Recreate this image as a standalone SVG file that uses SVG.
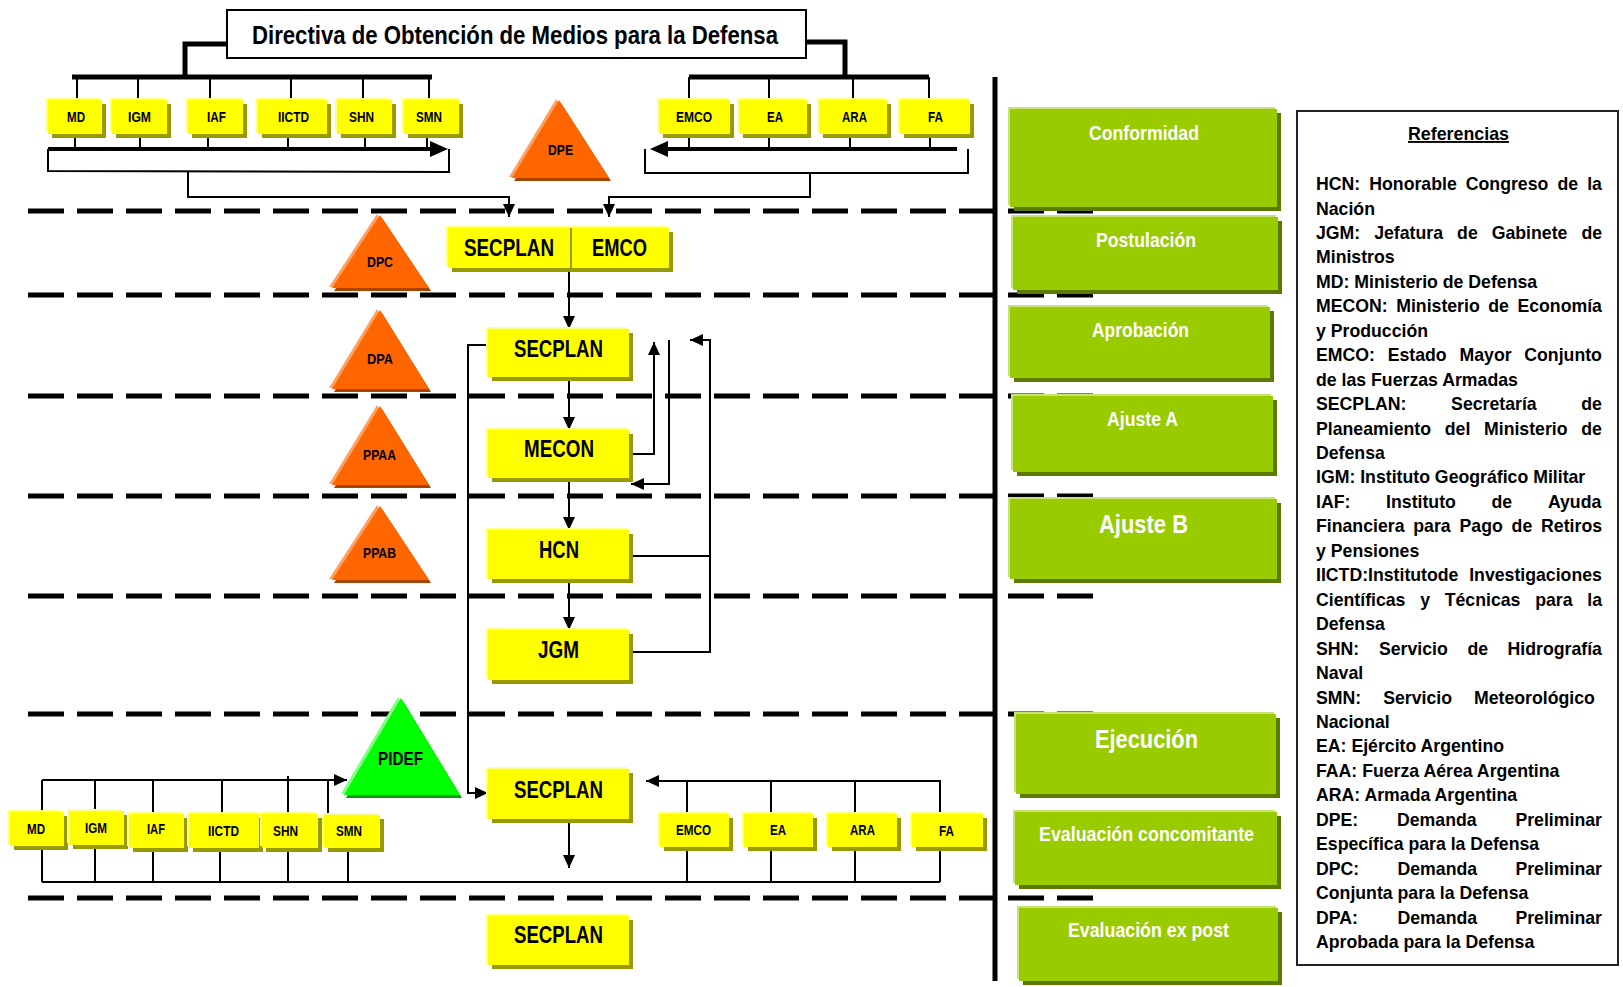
<svg xmlns="http://www.w3.org/2000/svg" width="1623" height="987" viewBox="0 0 1623 987">
<defs>
<style>
.dash{stroke:#000;stroke-width:5;stroke-dasharray:36 13;fill:none}
.thick{stroke:#000;stroke-width:5;fill:none}
.ln{stroke:#000;stroke-width:2;fill:none}
.ln4{stroke:#000;stroke-width:4;fill:none}
.ysh{fill:#999900}.yl{fill:#FFFF8C}.y{fill:#FFFF00}
.gsh{fill:#5C7A00}.gl{fill:#C8E27A}.g{fill:#99CC00}
.osh{fill:#A84300}.ol{fill:#FFA060}.o{fill:#FF6600}
.psh{fill:#00A000}.pl{fill:#80FF80}.p{fill:#00FF00}
text{font-family:"Liberation Sans",Arial,sans-serif;font-weight:bold;fill:#000}
.w{fill:#FFFFFF}
.s14{font-size:14px}.s18{font-size:18px}.s23{font-size:23px}.s20{font-size:20.5px}.s25{font-size:25.5px}.leg{font-size:17.7px}
</style>
<marker id="ah" markerUnits="userSpaceOnUse" markerWidth="13" markerHeight="12" refX="13" refY="6" orient="auto"><path d="M0,0 L13,6 L0,12 z" fill="#000"/></marker>
<marker id="ahb" markerUnits="userSpaceOnUse" markerWidth="18" markerHeight="16" refX="6" refY="8" orient="auto"><path d="M0,0 L18,8 L0,16 z" fill="#000"/></marker>
</defs>
<rect x="0" y="0" width="1623" height="987" fill="#FFFFFF"/>

<g id="phase-lines">
<line class="dash" x1="28" y1="211" x2="1093" y2="211"/>
<line class="dash" x1="28" y1="295" x2="1093" y2="295"/>
<line class="dash" x1="28" y1="396" x2="1093" y2="396"/>
<line class="dash" x1="28" y1="496" x2="1093" y2="496"/>
<line class="dash" x1="28" y1="596" x2="1093" y2="596"/>
<line class="dash" x1="28" y1="714" x2="1093" y2="714"/>
<line class="dash" x1="28" y1="898" x2="1093" y2="898"/>
<line class="thick" x1="995" y1="77" x2="995" y2="981"/>
</g>

<g id="connectors">
<polyline class="thick" points="227,44 185,44 185,77"/>
<line class="thick" x1="72" y1="77" x2="432" y2="77"/>
<line class="ln" x1="77" y1="77" x2="77" y2="100"/>
<line class="ln" x1="138" y1="77" x2="138" y2="100"/>
<line class="ln" x1="210" y1="77" x2="210" y2="100"/>
<line class="ln" x1="291" y1="77" x2="291" y2="100"/>
<line class="ln" x1="363" y1="77" x2="363" y2="100"/>
<line class="ln" x1="429" y1="77" x2="429" y2="100"/>
<polyline class="thick" points="806,42 845,42 845,77"/>
<line class="thick" x1="689" y1="77" x2="929" y2="77"/>
<line class="ln" x1="689" y1="77" x2="689" y2="100"/>
<line class="ln" x1="769" y1="77" x2="769" y2="100"/>
<line class="ln" x1="853" y1="77" x2="853" y2="100"/>
<line class="ln" x1="929" y1="77" x2="929" y2="100"/>
<line class="ln" x1="75" y1="134" x2="75" y2="149"/>
<line class="ln" x1="140" y1="134" x2="140" y2="149"/>
<line class="ln" x1="208" y1="134" x2="208" y2="149"/>
<line class="ln" x1="288" y1="134" x2="288" y2="149"/>
<line class="ln" x1="365" y1="134" x2="365" y2="149"/>
<line class="ln" x1="427" y1="134" x2="427" y2="149"/>
<line class="ln4" x1="48" y1="149" x2="436" y2="149" marker-end="url(#ahb)"/>
<polyline class="ln" points="48,149 48,171 449,172 449,149"/>
<polyline class="ln" points="188,172 188,197 509,197 509,217" marker-end="url(#ah)"/>
<line class="ln" x1="689" y1="134" x2="689" y2="149"/>
<line class="ln" x1="769" y1="134" x2="769" y2="149"/>
<line class="ln" x1="850" y1="134" x2="850" y2="149"/>
<line class="ln" x1="930" y1="134" x2="930" y2="149"/>
<line class="ln4" x1="957" y1="149" x2="662" y2="149" marker-end="url(#ahb)"/>
<polyline class="ln" points="645,149 645,173 968,173 968,149"/>
<polyline class="ln" points="810,173 810,197 609,197 609,217" marker-end="url(#ah)"/>

<line class="ln" x1="569" y1="268" x2="569" y2="329" marker-end="url(#ah)"/>
<line class="ln" x1="569" y1="377" x2="569" y2="430" marker-end="url(#ah)"/>
<line class="ln" x1="569" y1="478" x2="569" y2="530" marker-end="url(#ah)"/>
<line class="ln" x1="569" y1="579" x2="569" y2="630" marker-end="url(#ah)"/>
<polyline class="ln" points="492,345 468,345 468,793 488,793" marker-end="url(#ah)"/>
<polyline class="ln" points="629,454 654,454 654,342" marker-end="url(#ah)"/>
<polyline class="ln" points="669,340 669,484 631,484" marker-end="url(#ah)"/>
<line class="ln" x1="629" y1="556" x2="710" y2="556"/>
<polyline class="ln" points="629,652 710,652 710,340 690,340" marker-end="url(#ah)"/>
<line class="ln" x1="569" y1="819" x2="569" y2="868" marker-end="url(#ah)"/>

<line class="ln" x1="42" y1="780" x2="347" y2="780" marker-end="url(#ah)"/>
<line class="ln" x1="42" y1="780" x2="42" y2="882"/>
<line class="ln" x1="95" y1="780" x2="95" y2="882"/>
<line class="ln" x1="153" y1="780" x2="153" y2="882"/>
<line class="ln" x1="222" y1="780" x2="222" y2="814"/>
<line class="ln" x1="220" y1="848" x2="220" y2="882"/>
<line class="ln" x1="288" y1="776" x2="288" y2="882"/>
<line class="ln" x1="328" y1="780" x2="328" y2="815"/>
<line class="ln" x1="348" y1="848" x2="348" y2="882"/>
<line class="ln" x1="42" y1="882" x2="940" y2="882"/>
<polyline class="ln" points="940,882 940,781 646,781" marker-end="url(#ah)"/>
<line class="ln" x1="687" y1="781" x2="687" y2="882"/>
<line class="ln" x1="771" y1="781" x2="771" y2="882"/>
<line class="ln" x1="855" y1="781" x2="855" y2="882"/>
</g>

<g id="title">
<rect x="227" y="10" width="579" height="48" fill="#FFFFFF" stroke="#000" stroke-width="2"/>
<text x="252" y="44" style="font-size:25px" textLength="526" lengthAdjust="spacingAndGlyphs">Directiva de Obtención de Medios para la Defensa</text>
</g>

<g id="top-MD"><rect class="ysh" x="52" y="104" width="54" height="34"/><rect class="yl" x="46" y="98" width="54" height="34"/><rect class="y" x="48" y="100" width="54" height="34"/><text class="s14" x="67" y="122" textLength="18" lengthAdjust="spacingAndGlyphs">MD</text></g>
<g id="top-IGM"><rect class="ysh" x="116" y="104" width="55" height="34"/><rect class="yl" x="110" y="98" width="55" height="34"/><rect class="y" x="112" y="100" width="55" height="34"/><text class="s14" x="128" y="122" textLength="23" lengthAdjust="spacingAndGlyphs">IGM</text></g>
<g id="top-IAF"><rect class="ysh" x="192" y="104" width="55" height="34"/><rect class="yl" x="186" y="98" width="55" height="34"/><rect class="y" x="188" y="100" width="55" height="34"/><text class="s14" x="207" y="122" textLength="19" lengthAdjust="spacingAndGlyphs">IAF</text></g>
<g id="top-IICTD"><rect class="ysh" x="262" y="104" width="69" height="34"/><rect class="yl" x="256" y="98" width="69" height="34"/><rect class="y" x="258" y="100" width="69" height="34"/><text class="s14" x="278" y="122" textLength="31" lengthAdjust="spacingAndGlyphs">IICTD</text></g>
<g id="top-SHN"><rect class="ysh" x="341" y="104" width="55" height="34"/><rect class="yl" x="335" y="98" width="55" height="34"/><rect class="y" x="337" y="100" width="55" height="34"/><text class="s14" x="349" y="122" textLength="25" lengthAdjust="spacingAndGlyphs">SHN</text></g>
<g id="top-SMN"><rect class="ysh" x="408" y="104" width="55" height="34"/><rect class="yl" x="402" y="98" width="55" height="34"/><rect class="y" x="404" y="100" width="55" height="34"/><text class="s14" x="416" y="122" textLength="26" lengthAdjust="spacingAndGlyphs">SMN</text></g>

<g id="top-EMCO"><rect class="ysh" x="663" y="104" width="71" height="34"/><rect class="yl" x="657" y="98" width="71" height="34"/><rect class="y" x="659" y="100" width="71" height="34"/><text class="s14" x="676" y="122" textLength="36" lengthAdjust="spacingAndGlyphs">EMCO</text></g>
<g id="top-EA"><rect class="ysh" x="743" y="104" width="68" height="34"/><rect class="yl" x="737" y="98" width="68" height="34"/><rect class="y" x="739" y="100" width="68" height="34"/><text class="s14" x="767" y="122" textLength="16" lengthAdjust="spacingAndGlyphs">EA</text></g>
<g id="top-ARA"><rect class="ysh" x="823" y="104" width="68" height="34"/><rect class="yl" x="817" y="98" width="68" height="34"/><rect class="y" x="819" y="100" width="68" height="34"/><text class="s14" x="842" y="122" textLength="25" lengthAdjust="spacingAndGlyphs">ARA</text></g>
<g id="top-FA"><rect class="ysh" x="904" y="104" width="70" height="34"/><rect class="yl" x="898" y="98" width="70" height="34"/><rect class="y" x="900" y="100" width="70" height="34"/><text class="s14" x="928" y="122" textLength="15" lengthAdjust="spacingAndGlyphs">FA</text></g>

<g id="tri-DPE"><polygon class="osh" points="561,103 514,181 611,181"/><polygon class="ol" points="556,99 509,177 606,177"/><polygon class="o" points="559,100 512,178 609,178"/><text class="s14" x="548" y="155" textLength="25" lengthAdjust="spacingAndGlyphs">DPE</text></g>
<g id="tri-DPC"><polygon class="osh" points="382,218 334,291 431,291"/><polygon class="ol" points="377,214 329,287 426,287"/><polygon class="o" points="380,215 332,288 429,288"/><text class="s14" x="367" y="267" textLength="26" lengthAdjust="spacingAndGlyphs">DPC</text></g>
<g id="tri-DPA"><polygon class="osh" points="382,313 334,392 431,392"/><polygon class="ol" points="377,309 329,388 426,388"/><polygon class="o" points="380,310 332,389 429,389"/><text class="s14" x="367" y="364" textLength="26" lengthAdjust="spacingAndGlyphs">DPA</text></g>
<g id="tri-PPAA"><polygon class="osh" points="382,409 334,488 431,488"/><polygon class="ol" points="377,405 329,484 426,484"/><polygon class="o" points="380,406 332,485 429,485"/><text class="s14" x="363" y="460" textLength="33" lengthAdjust="spacingAndGlyphs">PPAA</text></g>
<g id="tri-PPAB"><polygon class="osh" points="382,509 334,583 431,583"/><polygon class="ol" points="377,505 329,579 426,579"/><polygon class="o" points="380,506 332,580 429,580"/><text class="s14" x="363" y="558" textLength="33" lengthAdjust="spacingAndGlyphs">PPAB</text></g>
<g id="tri-PIDEF"><polygon class="psh" points="403,701 346,798 462,798"/><polygon class="pl" points="398,697 341,794 457,794"/><polygon class="p" points="401,698 344,795 460,795"/><text class="s18" x="378" y="765" textLength="45" lengthAdjust="spacingAndGlyphs">PIDEF</text></g>

<g id="SECPLAN-EMCO"><rect class="ysh" x="452" y="232" width="221" height="40"/><rect class="yl" x="446" y="226" width="221" height="40"/><rect class="y" x="448" y="228" width="221" height="40"/><line x1="571" y1="228" x2="571" y2="268" stroke="#999900" stroke-width="2"/><text class="s23" x="464" y="256" textLength="90" lengthAdjust="spacingAndGlyphs">SECPLAN</text><text class="s23" x="592" y="256" textLength="55" lengthAdjust="spacingAndGlyphs">EMCO</text></g>
<g id="SECPLAN-2"><rect class="ysh" x="492" y="333" width="141" height="48"/><rect class="yl" x="486" y="327" width="141" height="48"/><rect class="y" x="488" y="329" width="141" height="48"/><text class="s23" x="514" y="357" textLength="89" lengthAdjust="spacingAndGlyphs">SECPLAN</text></g>
<g id="MECON"><rect class="ysh" x="492" y="434" width="141" height="48"/><rect class="yl" x="486" y="428" width="141" height="48"/><rect class="y" x="488" y="430" width="141" height="48"/><text class="s23" x="524" y="457" textLength="70" lengthAdjust="spacingAndGlyphs">MECON</text></g>
<g id="HCN"><rect class="ysh" x="492" y="534" width="141" height="49"/><rect class="yl" x="486" y="528" width="141" height="49"/><rect class="y" x="488" y="530" width="141" height="49"/><text class="s23" x="539" y="558" textLength="40" lengthAdjust="spacingAndGlyphs">HCN</text></g>
<g id="JGM"><rect class="ysh" x="492" y="634" width="141" height="50"/><rect class="yl" x="486" y="628" width="141" height="50"/><rect class="y" x="488" y="630" width="141" height="50"/><text class="s23" x="538" y="658" textLength="41" lengthAdjust="spacingAndGlyphs">JGM</text></g>
<g id="SECPLAN-3"><rect class="ysh" x="492" y="773" width="141" height="50"/><rect class="yl" x="486" y="767" width="141" height="50"/><rect class="y" x="488" y="769" width="141" height="50"/><text class="s23" x="514" y="798" textLength="89" lengthAdjust="spacingAndGlyphs">SECPLAN</text></g>
<g id="SECPLAN-4"><rect class="ysh" x="492" y="920" width="141" height="49"/><rect class="yl" x="486" y="914" width="141" height="49"/><rect class="y" x="488" y="916" width="141" height="49"/><text class="s23" x="514" y="943" textLength="89" lengthAdjust="spacingAndGlyphs">SECPLAN</text></g>

<g id="bot-MD"><rect class="ysh" x="14" y="816" width="54" height="34"/><rect class="yl" x="8" y="810" width="54" height="34"/><rect class="y" x="10" y="812" width="54" height="34"/><text class="s14" x="27" y="834" textLength="18" lengthAdjust="spacingAndGlyphs">MD</text></g>
<g id="bot-IGM"><rect class="ysh" x="73" y="815" width="55" height="34"/><rect class="yl" x="67" y="809" width="55" height="34"/><rect class="y" x="69" y="811" width="55" height="34"/><text class="s14" x="85" y="833" textLength="22" lengthAdjust="spacingAndGlyphs">IGM</text></g>
<g id="bot-IAF"><rect class="ysh" x="133" y="818" width="55" height="34"/><rect class="yl" x="127" y="812" width="55" height="34"/><rect class="y" x="129" y="814" width="55" height="34"/><text class="s14" x="147" y="834" textLength="18" lengthAdjust="spacingAndGlyphs">IAF</text></g>
<g id="bot-IICTD"><rect class="ysh" x="193" y="818" width="70" height="34"/><rect class="yl" x="187" y="812" width="70" height="34"/><rect class="y" x="189" y="814" width="70" height="34"/><text class="s14" x="208" y="836" textLength="31" lengthAdjust="spacingAndGlyphs">IICTD</text></g>
<g id="bot-SHN"><rect class="ysh" x="266" y="818" width="56" height="34"/><rect class="yl" x="260" y="812" width="56" height="34"/><rect class="y" x="262" y="814" width="56" height="34"/><text class="s14" x="273" y="836" textLength="25" lengthAdjust="spacingAndGlyphs">SHN</text></g>
<g id="bot-SMN"><rect class="ysh" x="328" y="819" width="56" height="33"/><rect class="yl" x="322" y="813" width="56" height="33"/><rect class="y" x="324" y="815" width="56" height="33"/><text class="s14" x="336" y="836" textLength="26" lengthAdjust="spacingAndGlyphs">SMN</text></g>

<g id="bot-EMCO"><rect class="ysh" x="664" y="818" width="69" height="33"/><rect class="yl" x="658" y="812" width="69" height="33"/><rect class="y" x="660" y="814" width="69" height="33"/><text class="s14" x="676" y="835" textLength="35" lengthAdjust="spacingAndGlyphs">EMCO</text></g>
<g id="bot-EA"><rect class="ysh" x="748" y="818" width="69" height="33"/><rect class="yl" x="742" y="812" width="69" height="33"/><rect class="y" x="744" y="814" width="69" height="33"/><text class="s14" x="770" y="835" textLength="16" lengthAdjust="spacingAndGlyphs">EA</text></g>
<g id="bot-ARA"><rect class="ysh" x="832" y="818" width="69" height="33"/><rect class="yl" x="826" y="812" width="69" height="33"/><rect class="y" x="828" y="814" width="69" height="33"/><text class="s14" x="850" y="835" textLength="25" lengthAdjust="spacingAndGlyphs">ARA</text></g>
<g id="bot-FA"><rect class="ysh" x="916" y="818" width="71" height="33"/><rect class="yl" x="910" y="812" width="71" height="33"/><rect class="y" x="912" y="814" width="71" height="33"/><text class="s14" x="939" y="836" textLength="15" lengthAdjust="spacingAndGlyphs">FA</text></g>

<g id="phase-Conformidad"><rect class="gsh" x="1014" y="113" width="267" height="98"/><rect class="gl" x="1008" y="107" width="267" height="98"/><rect class="g" x="1010" y="109" width="267" height="98"/><text class="s20 w" x="1089" y="140" textLength="110" lengthAdjust="spacingAndGlyphs">Conformidad</text></g>
<g id="phase-Postulacion"><rect class="gsh" x="1017" y="221" width="265" height="73"/><rect class="gl" x="1011" y="215" width="265" height="73"/><rect class="g" x="1013" y="217" width="265" height="73"/><text class="s20 w" x="1096" y="247" textLength="100" lengthAdjust="spacingAndGlyphs">Postulación</text></g>
<g id="phase-Aprobacion"><rect class="gsh" x="1014" y="311" width="260" height="71"/><rect class="gl" x="1008" y="305" width="260" height="71"/><rect class="g" x="1010" y="307" width="260" height="71"/><text class="s20 w" x="1092" y="337" textLength="97" lengthAdjust="spacingAndGlyphs">Aprobación</text></g>
<g id="phase-AjusteA"><rect class="gsh" x="1017" y="400" width="260" height="76"/><rect class="gl" x="1011" y="394" width="260" height="76"/><rect class="g" x="1013" y="396" width="260" height="76"/><text class="s20 w" x="1107" y="426" textLength="71" lengthAdjust="spacingAndGlyphs">Ajuste A</text></g>
<g id="phase-AjusteB"><rect class="gsh" x="1014" y="503" width="267" height="80"/><rect class="gl" x="1008" y="497" width="267" height="80"/><rect class="g" x="1010" y="499" width="267" height="80"/><text class="s25 w" x="1099" y="533" textLength="89" lengthAdjust="spacingAndGlyphs">Ajuste B</text></g>
<g id="phase-Ejecucion"><rect class="gsh" x="1020" y="718" width="260" height="80"/><rect class="gl" x="1014" y="712" width="260" height="80"/><rect class="g" x="1016" y="714" width="260" height="80"/><text class="s25 w" x="1095" y="748" textLength="103" lengthAdjust="spacingAndGlyphs">Ejecución</text></g>
<g id="phase-EvalConcomitante"><rect class="gsh" x="1019" y="816" width="262" height="73"/><rect class="gl" x="1013" y="810" width="262" height="73"/><rect class="g" x="1015" y="812" width="262" height="73"/><text class="s20 w" x="1039" y="841" textLength="215" lengthAdjust="spacingAndGlyphs">Evaluación concomitante</text></g>
<g id="phase-EvalExPost"><rect class="gsh" x="1023" y="912" width="259" height="73"/><rect class="gl" x="1017" y="906" width="259" height="73"/><rect class="g" x="1019" y="908" width="259" height="73"/><text class="s20 w" x="1068" y="937" textLength="161" lengthAdjust="spacingAndGlyphs">Evaluación ex post</text></g>

<g id="legend">
<rect x="1297" y="111" width="321" height="854" fill="#FFFFFF" stroke="#222" stroke-width="2"/>
<text x="1408" y="140" style="font-size:19px" text-decoration="underline" textLength="101" lengthAdjust="spacingAndGlyphs">Referencias</text>
<text class="leg" y="190"><tspan x="1316">HCN:</tspan><tspan x="1369.3">Honorable</tspan><tspan x="1465.8">Congreso</tspan><tspan x="1557.5">de</tspan><tspan x="1587.2">la</tspan></text>
<text class="leg" x="1316" y="214.5">Nación</text>
<text class="leg" y="238.9"><tspan x="1316">JGM:</tspan><tspan x="1374.2">Jefatura</tspan><tspan x="1457.1">de</tspan><tspan x="1491.7">Gabinete</tspan><tspan x="1581.4">de</tspan></text>
<text class="leg" x="1316" y="263.4">Ministros</text>
<text class="leg" x="1316" y="287.8">MD: Ministerio de Defensa</text>
<text class="leg" y="312.3"><tspan x="1316">MECON:</tspan><tspan x="1396.2">Ministerio</tspan><tspan x="1488.2">de</tspan><tspan x="1517.4">Economía</tspan></text>
<text class="leg" x="1316" y="336.7">y Producción</text>
<text class="leg" y="361.2"><tspan x="1316">EMCO:</tspan><tspan x="1387.7">Estado</tspan><tspan x="1459.5">Mayor</tspan><tspan x="1524.3">Conjunto</tspan></text>
<text class="leg" x="1316" y="385.6">de las Fuerzas Armadas</text>
<text class="leg" y="410.1"><tspan x="1316">SECPLAN:</tspan><tspan x="1451.1">Secretaría</tspan><tspan x="1581.3">de</tspan></text>
<text class="leg" y="434.5"><tspan x="1316">Planeamiento</tspan><tspan x="1444.8">del</tspan><tspan x="1484">Ministerio</tspan><tspan x="1581.3">de</tspan></text>
<text class="leg" x="1316" y="459">Defensa</text>
<text class="leg" x="1316" y="483.4">IGM: Instituto Geográfico Militar</text>
<text class="leg" y="507.9"><tspan x="1316">IAF:</tspan><tspan x="1386.1">Instituto</tspan><tspan x="1491.5">de</tspan><tspan x="1547.9">Ayuda</tspan></text>
<text class="leg" y="532.3"><tspan x="1316">Financiera</tspan><tspan x="1413.3">para</tspan><tspan x="1459.5">Pago</tspan><tspan x="1511.6">de</tspan><tspan x="1541.1">Retiros</tspan></text>
<text class="leg" x="1316" y="556.8">y Pensiones</text>
<text class="leg" y="581.2"><tspan x="1316">IICTD:Institutode</tspan><tspan x="1469.2">Investigaciones</tspan></text>
<text class="leg" y="605.7"><tspan x="1316">Científicas</tspan><tspan x="1420.2">y</tspan><tspan x="1444.7">Técnicas</tspan><tspan x="1535.2">para</tspan><tspan x="1587.3">la</tspan></text>
<text class="leg" x="1316" y="630.1">Defensa</text>
<text class="leg" y="654.6"><tspan x="1316">SHN:</tspan><tspan x="1378.9">Servicio</tspan><tspan x="1467.4">de</tspan><tspan x="1507.6">Hidrografía</tspan></text>
<text class="leg" x="1316" y="679">Naval</text>
<text class="leg" y="703.5"><tspan x="1316">SMN:</tspan><tspan x="1383.2">Servicio</tspan><tspan x="1474">Meteorológico</tspan></text>
<text class="leg" x="1316" y="727.9">Nacional</text>
<text class="leg" x="1316" y="752.4">EA: Ejército Argentino</text>
<text class="leg" x="1316" y="776.8">FAA: Fuerza Aérea Argentina</text>
<text class="leg" x="1316" y="801.3">ARA: Armada Argentina</text>
<text class="leg" y="825.7"><tspan x="1316">DPE:</tspan><tspan x="1397">Demanda</tspan><tspan x="1515.4">Preliminar</tspan></text>
<text class="leg" x="1316" y="850.2">Específica para la Defensa</text>
<text class="leg" y="874.6"><tspan x="1316">DPC:</tspan><tspan x="1397.5">Demanda</tspan><tspan x="1515.4">Preliminar</tspan></text>
<text class="leg" x="1316" y="899.1">Conjunta para la Defensa</text>
<text class="leg" y="923.5"><tspan x="1316">DPA:</tspan><tspan x="1397.5">Demanda</tspan><tspan x="1515.4">Preliminar</tspan></text>
<text class="leg" x="1316" y="948">Aprobada para la Defensa</text>
</g>
</svg>
